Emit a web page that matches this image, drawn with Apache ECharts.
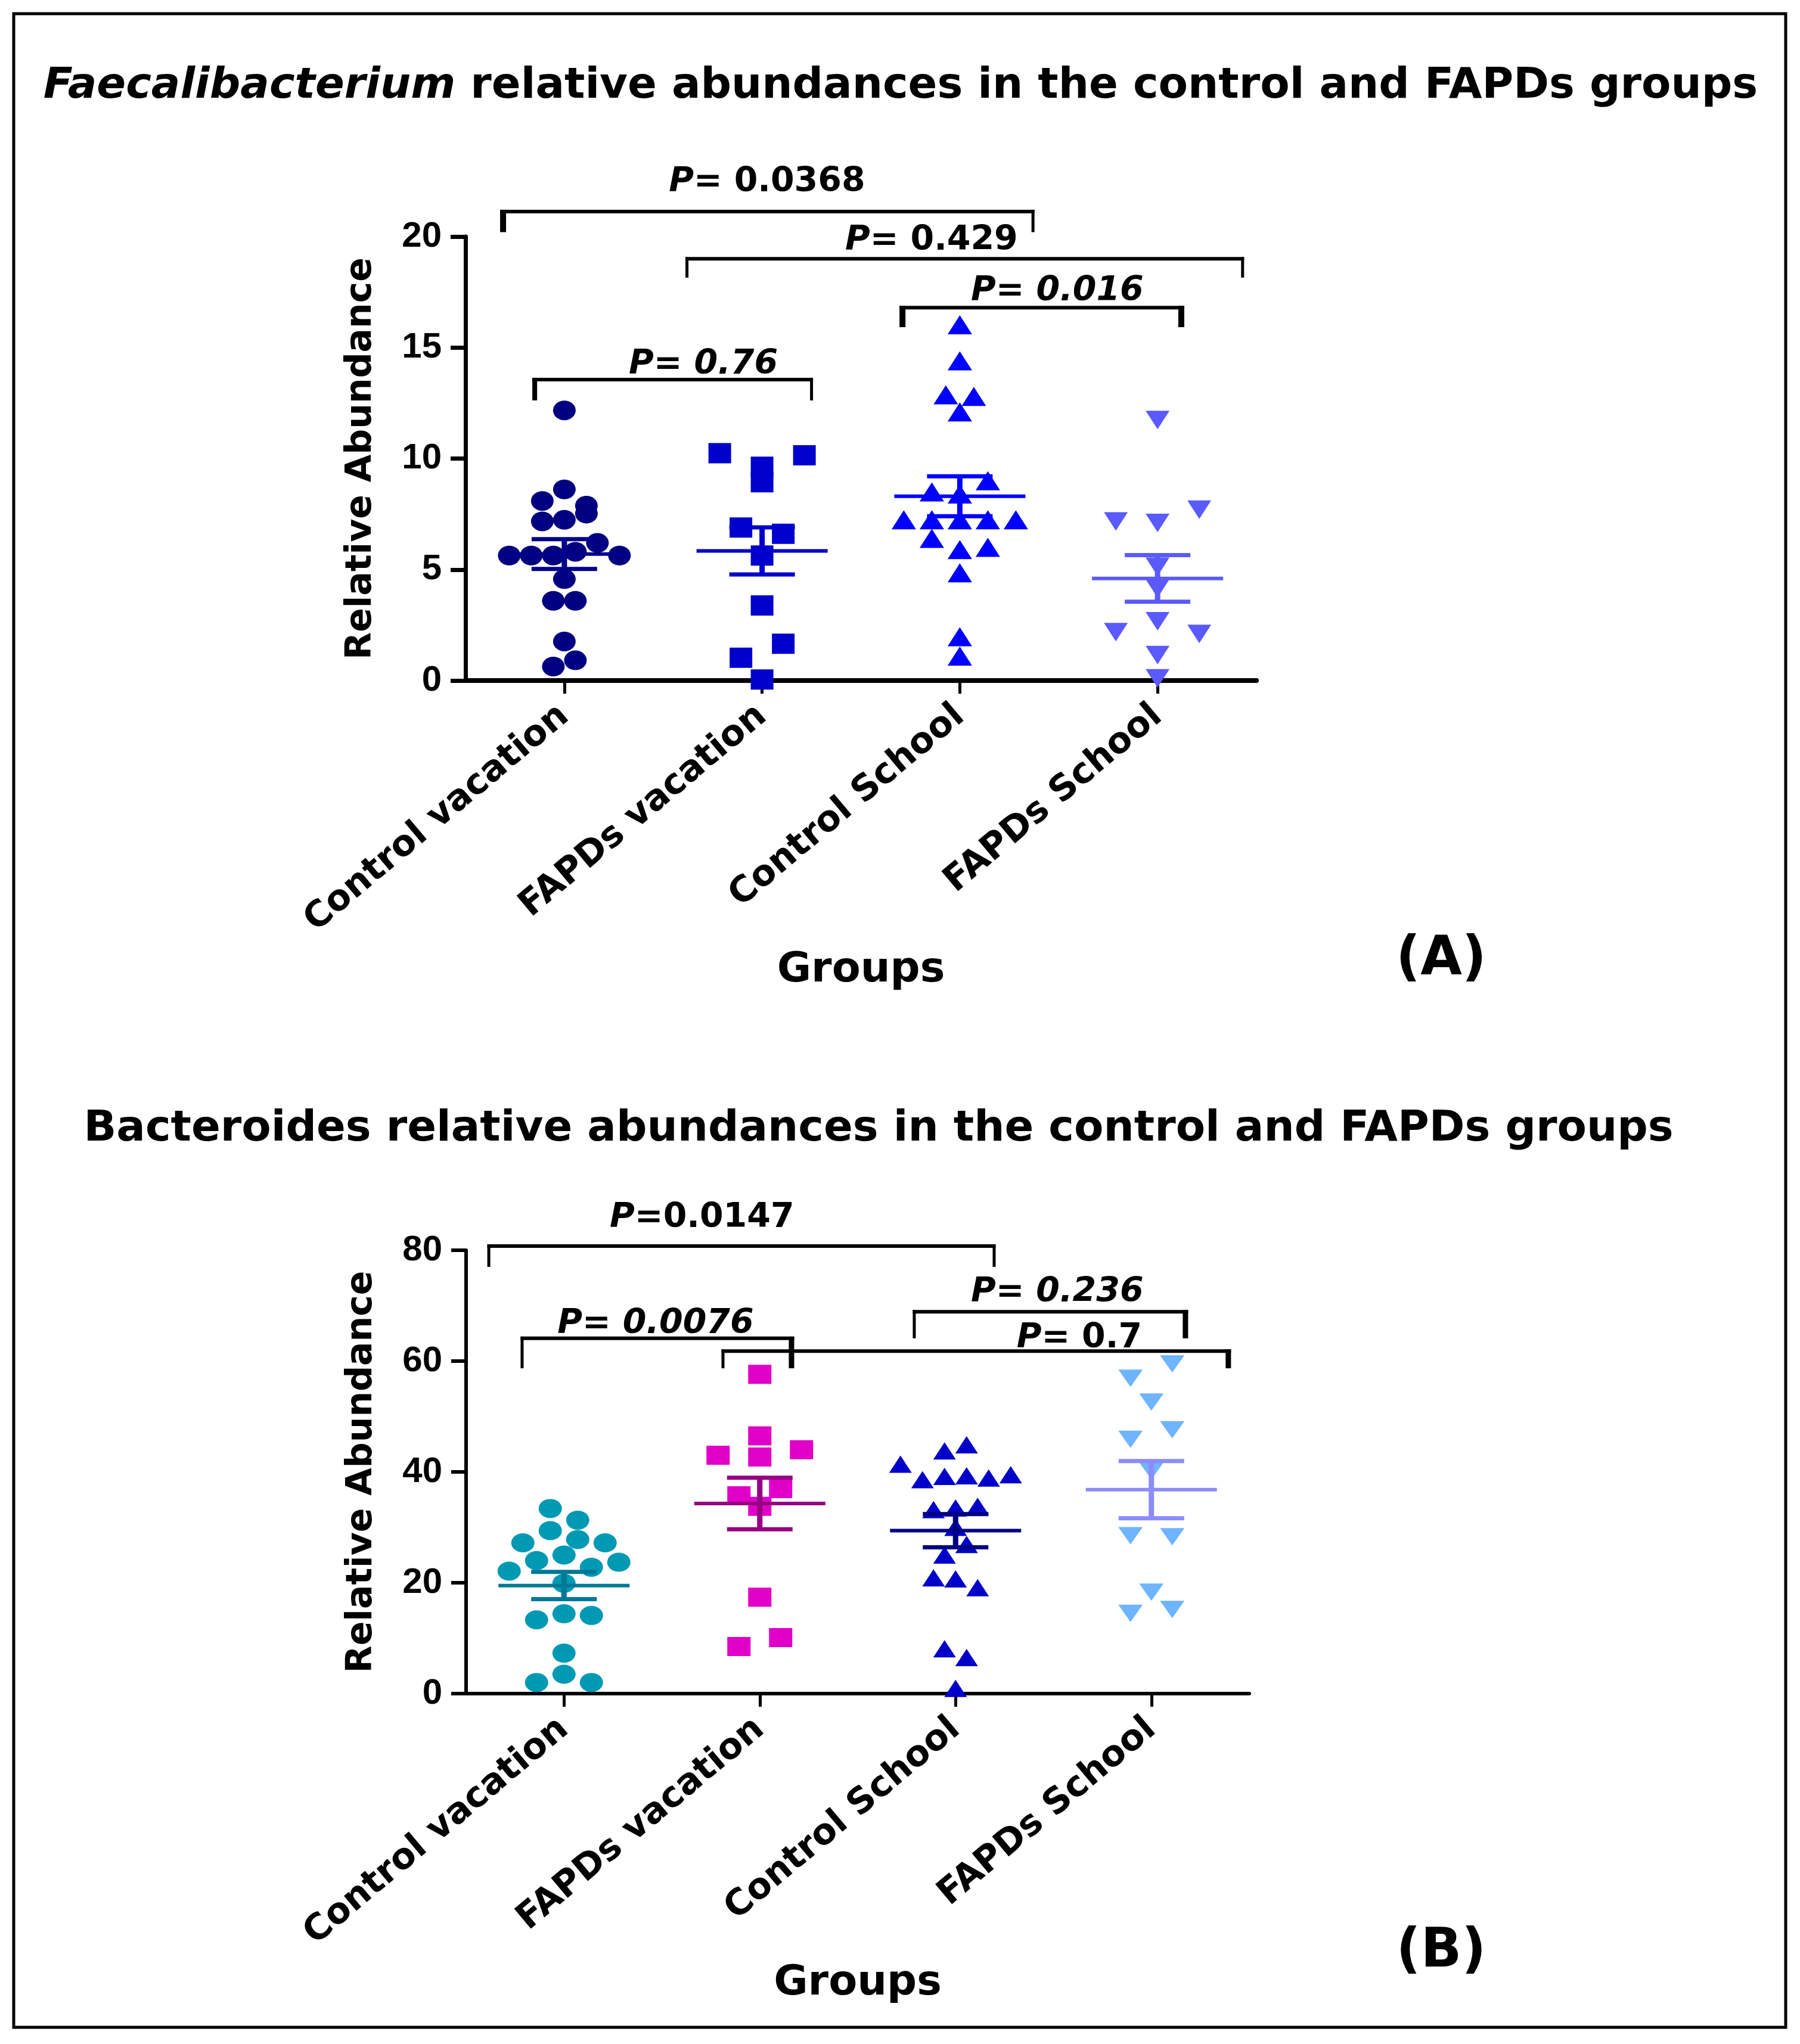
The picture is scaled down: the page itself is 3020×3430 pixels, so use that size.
<!DOCTYPE html>
<html><head><meta charset="utf-8">
<script src="https://cdn.jsdelivr.net/npm/echarts@6/dist/echarts.min.js"></script>
<style>html,body{margin:0;padding:0;background:#fff}#c{width:3020px;height:3430px}</style>
</head><body><div id="c"></div>
<script>
// ---------------- data ----------------
const categories = ['Control vacation', 'FAPDs vacation', 'Control School', 'FAPDs School'];

// Panel A : Faecalibacterium
const faecaliControlVacation = [12.17, 8.09, 8.61, 7.88, 7.17, 7.24, 7.52, 5.63, 5.63, 5.63, 5.8, 6.2, 5.63, 4.57, 3.59, 3.59, 1.76, 0.63, 0.91];
const faecaliFAPDsVacation   = [10.24, 9.63, 10.15, 8.93, 6.89, 6.61, 5.63, 3.38, 1.03, 1.66, 0.05];
const faecaliControlSchool   = [16.03, 14.4, 12.87, 12.8, 12.1, 8.5, 8.4, 9.0, 7.24, 7.24, 7.24, 7.24, 7.24, 6.4, 5.9, 6.0, 4.85, 1.97, 1.1];
const faecaliFAPDsSchool     = [11.74, 7.17, 7.1, 7.7, 5.13, 4.15, 2.18, 2.67, 2.1, 1.15, 0.1];
const faecaliMean = [5.70, 5.84, 8.30, 4.60];
const faecaliSEM  = [0.67, 1.06, 0.90, 1.05];
const faecaliYTicks = [0, 5, 10, 15, 20];

// Panel B : Bacteroides
const bacteroControlVacation = [33.4, 31.3, 27.2, 29.4, 27.8, 27.2, 22.1, 24.0, 25.0, 22.8, 23.7, 19.9, 13.3, 14.4, 14.1, 7.3, 2.0, 3.5, 2.0];
const bacteroFAPDsVacation   = [57.6, 46.5, 43.0, 42.7, 44.0, 35.7, 37.0, 33.8, 17.4, 8.5, 10.1];
const bacteroControlSchool   = [43.8, 44.9, 41.4, 38.6, 39.2, 39.3, 38.9, 39.5, 33.2, 33.5, 33.8, 30.0, 25.0, 26.9, 20.9, 20.7, 19.1, 8.1, 6.5, 0.95];
const bacteroFAPDsSchool     = [56.9, 59.5, 52.6, 45.9, 47.6, 40.2, 28.5, 28.3, 18.3, 14.5, 15.2];
const bacteroMean = [19.5, 34.3, 29.4, 36.8];
const bacteroSEM  = [2.45, 4.65, 3.0, 5.15];
const bacteroYTicks = [0, 20, 40, 60, 80];

// comparisons (group-index span, bar level / leg end in axis units, p text)
const faecaliPairs  = [[-0.31, 2.37], [0.62, 3.43], [1.71, 3.12], [-0.15, 1.25]];
const faecaliLevels = [[21.13, 20.2], [19.0, 18.15], [16.8, 15.92], [13.56, 12.62]];
const faecaliPText  = ['= 0.0368', '= 0.429', '= 0.016', '= 0.76'];
const faecaliPItalic = [false, false, true, true];
const faecaliPAt    = [[1.025, 22.44], [1.857, 19.8], [2.493, 17.53], [0.703, 14.23]];

const bacteroPairs  = [[-0.384, 2.197], [-0.214, 1.162], [0.812, 3.393], [1.789, 3.174]];
const bacteroLevels = [[80.75, 77.0], [64.1, 58.7], [61.8, 58.7], [68.9, 64.1]];
const bacteroPText  = ['=0.0147', '= 0.0076', '= 0.7', '= 0.236'];
const bacteroPItalic = [false, true, false, true];
const bacteroPAt    = [[0.705, 85.8], [0.468, 66.65], [2.632, 64.05], [2.519, 72.35]];

// ---------------- layout / style ----------------
const FONT = 'DejaVu Sans';
const gridA = {left: 781, top: 397, width: 1327, height: 745};
const gridB = {left: 782, top: 2098, width: 1314, height: 744};
const X_MIN = -0.5, X_MAX = 3.5;

const faecaliLegW = [[10, 5], [5, 5], [10, 10], [8, 5]];
const bacteroLegW = [[5, 5], [5, 9], [5, 9], [5, 9]];

function swarm(values, group, pxY, pxX, stepPx, tolPx) {
  const order = values.map((v, i) => i).sort((a, b) => (values[b] - values[a]) || (a - b));
  const rows = []; let cur = null;
  order.forEach(i => {
    if (cur && (values[cur[0]] - values[i]) * pxY < tolPx) cur.push(i);
    else { cur = [i]; rows.push(cur); }
  });
  const out = new Array(values.length);
  rows.forEach(r => {
    r.sort((a, b) => a - b);
    const n = r.length;
    r.forEach((idx, k) => { out[idx] = [group + (k - (n - 1) / 2) * stepPx / pxX, values[idx]]; });
  });
  return out;
}

function richP(italic, size) {
  return {
    p: {fontFamily: FONT, fontWeight: 'bold', fontStyle: 'italic', fontSize: size, color: '#000'},
    t: {fontFamily: FONT, fontWeight: 'bold', fontStyle: italic ? 'italic' : 'normal', fontSize: size, color: '#000'}
  };
}

function bracketSeries(gi, pairs, levels, texts, italics, at, legW) {
  return {
    type: 'custom', xAxisIndex: gi, yAxisIndex: gi, clip: false, z: 5, silent: true,
    data: pairs.map((p, i) => [at[i][0], at[i][1], i]),
    renderItem: function (params, api) {
      const i = params.dataIndex;
      const x1 = pairs[i][0], x2 = pairs[i][1], yb = levels[i][0], yl = levels[i][1];
      const a = api.coord([x1, yb]), b = api.coord([x2, yb]);
      const al = api.coord([x1, yl]), bl = api.coord([x2, yl]);
      const lp = api.coord(at[i]);
      return {type: 'group', children: [
        {type: 'line', shape: {x1: a[0] - legW[i][0] / 2, y1: a[1], x2: b[0] + legW[i][1] / 2, y2: b[1]}, style: {stroke: '#000', lineWidth: 6}},
        {type: 'line', shape: {x1: a[0], y1: a[1] - 3, x2: al[0], y2: al[1]}, style: {stroke: '#000', lineWidth: legW[i][0]}},
        {type: 'line', shape: {x1: b[0], y1: b[1] - 3, x2: bl[0], y2: bl[1]}, style: {stroke: '#000', lineWidth: legW[i][1]}},
        {type: 'text', x: lp[0], y: lp[1], style: {
          text: '{p|P}{t|' + texts[i] + '}', align: 'center', verticalAlign: 'middle',
          textAlign: 'center', textVerticalAlign: 'middle', rich: richP(italics[i], 57)}}
      ]};
    }
  };
}

function meanSeries(gi, means, sems, colors) {
  return {
    type: 'custom', xAxisIndex: gi, yAxisIndex: gi, clip: false, z: 4, silent: true,
    data: means.map((m, i) => [i, m, sems[i]]),
    renderItem: function (params, api) {
      const i = params.dataIndex;
      const m = means[i], s = sems[i];
      const c = api.coord([i, m]), up = api.coord([i, m + s]), dn = api.coord([i, m - s]);
      const col = colors[i];
      return {type: 'group', children: [
        {type: 'line', shape: {x1: c[0] - 110, y1: c[1], x2: c[0] + 110, y2: c[1]}, style: {stroke: col, lineWidth: 6}},
        {type: 'line', shape: {x1: c[0], y1: up[1], x2: c[0], y2: dn[1]}, style: {stroke: col, lineWidth: 9}},
        {type: 'line', shape: {x1: c[0] - 55, y1: up[1], x2: c[0] + 55, y2: up[1]}, style: {stroke: col, lineWidth: 7}},
        {type: 'line', shape: {x1: c[0] - 55, y1: dn[1], x2: c[0] + 55, y2: dn[1]}, style: {stroke: col, lineWidth: 7}}
      ]};
    }
  };
}

function scatter(gi, values, group, ticks, grid, symbol, size, color, stepPx, tolPx, rotate) {
  const pxY = grid.height / (ticks[ticks.length - 1] - ticks[0]);
  const pxX = grid.width / (X_MAX - X_MIN);
  return {
    type: 'scatter', xAxisIndex: gi, yAxisIndex: gi, clip: false, z: 3, silent: true,
    symbol: symbol, symbolSize: size, symbolRotate: rotate || 0,
    itemStyle: {color: color, opacity: 1},
    emphasis: {disabled: true},
    data: swarm(values, group, pxY, pxX, stepPx, tolPx)
  };
}

function xAxis(gi, lw) {
  return {
    type: 'value', gridIndex: gi, min: X_MIN, max: X_MAX,
    axisLine: {show: true, onZero: false, lineStyle: {color: '#000', width: lw}},
    splitLine: {show: false},
    axisTick: {show: true, customValues: [0, 1, 2, 3], length: 22, lineStyle: {color: '#000', width: 5}},
    axisLabel: {customValues: [0, 1, 2, 3], rotate: 40, margin: 52,
      formatter: v => categories[Math.round(v)],
      fontFamily: FONT, fontWeight: 'bold', fontSize: 60, color: '#000'},
    name: 'Groups', nameLocation: 'middle', nameGap: 452,
    nameTextStyle: {fontFamily: FONT, fontWeight: 'bold', fontSize: 70, color: '#000'}
  };
}

function yAxis(gi, ticks, lw) {
  return {
    type: 'value', gridIndex: gi, min: ticks[0], max: ticks[ticks.length - 1], interval: ticks[1] - ticks[0],
    axisLine: {show: true, onZero: false, lineStyle: {color: '#000', width: lw}},
    splitLine: {show: false},
    axisTick: {show: true, length: 25, lineStyle: {color: '#000', width: lw}},
    axisLabel: {margin: 40, fontFamily: 'Liberation Sans', fontWeight: 'bold', fontSize: 60, color: '#000'},
    name: 'Relative Abundance', nameLocation: 'middle', nameGap: 145, nameRotate: 90,
    nameTextStyle: {fontFamily: FONT, fontWeight: 'bold', fontSize: 60, color: '#000'}
  };
}

const chart = echarts.init(document.getElementById('c'), null, {renderer: 'canvas'});
chart.setOption({
  animation: false,
  backgroundColor: '#fff',
  grid: [gridA, gridB],
  xAxis: [xAxis(0, 8), xAxis(1, 6)],
  yAxis: [yAxis(0, faecaliYTicks, 7), yAxis(1, bacteroYTicks, 6)],
  series: [
    scatter(0, faecaliControlVacation, 0, faecaliYTicks, gridA, 'circle', [38, 33], '#000080', 37, 30),
    scatter(0, faecaliFAPDsVacation, 1, faecaliYTicks, gridA, 'rect', [38, 34], '#0000CC', 71, 30),
    scatter(0, faecaliControlSchool, 2, faecaliYTicks, gridA, 'triangle', [41, 32], '#0000FF', 47, 27),
    scatter(0, faecaliFAPDsSchool, 3, faecaliYTicks, gridA, 'triangle', [40, 31], '#5A5AFF', 70, 27, 180),
    meanSeries(0, faecaliMean, faecaliSEM, ['#00008C', '#0000CC', '#0000FF', '#5A5AFF']),
    bracketSeries(0, faecaliPairs, faecaliLevels, faecaliPText, faecaliPItalic, faecaliPAt, faecaliLegW),

    scatter(1, bacteroControlVacation, 0, bacteroYTicks, gridB, 'circle', [39, 32], '#0099B4', 46, 28),
    scatter(1, bacteroFAPDsVacation, 1, bacteroYTicks, gridB, 'rect', [39, 32], '#E000C8', 70, 22),
    scatter(1, bacteroControlSchool, 2, bacteroYTicks, gridB, 'triangle', [38, 29], '#0000C8', 37, 27),
    scatter(1, bacteroFAPDsSchool, 3, bacteroYTicks, gridB, 'triangle', [41, 29], '#6EB4FF', 70, 27, 180),
    meanSeries(1, bacteroMean, bacteroSEM, ['#007896', '#960082', '#000082', '#8C8CFF']),
    bracketSeries(1, bacteroPairs, bacteroLevels, bacteroPText, bacteroPItalic, bacteroPAt, bacteroLegW)
  ],
  graphic: [
    {type: 'rect', shape: {x: 23, y: 23, width: 2973, height: 3379}, style: {fill: 'none', stroke: '#000', lineWidth: 5}, z: 10},
    {type: 'text', x: 1511, y: 145, style: {
      text: '{i|Faecalibacterium}{n| relative abundances in the control and FAPDs groups}',
      align: 'center', verticalAlign: 'middle', textAlign: 'center', textVerticalAlign: 'middle',
      rich: {
        i: {fontFamily: FONT, fontWeight: 'bold', fontStyle: 'italic', fontSize: 72, color: '#000'},
        n: {fontFamily: FONT, fontWeight: 'bold', fontSize: 72, color: '#000'}
      }}},
    {type: 'text', x: 1474, y: 1895, style: {
      text: 'Bacteroides relative abundances in the control and FAPDs groups',
      align: 'center', verticalAlign: 'middle', textAlign: 'center', textVerticalAlign: 'middle',
      font: 'bold 72px "DejaVu Sans"', fill: '#000'}},
    {type: 'text', x: 2418, y: 1612, style: {text: '(A)', align: 'center', verticalAlign: 'middle',
      textAlign: 'center', textVerticalAlign: 'middle', font: 'bold 90px "DejaVu Sans"', fill: '#000'}},
    {type: 'text', x: 2418, y: 3277, style: {text: '(B)', align: 'center', verticalAlign: 'middle',
      textAlign: 'center', textVerticalAlign: 'middle', font: 'bold 90px "DejaVu Sans"', fill: '#000'}}
  ]
});
</script>
</body></html>
